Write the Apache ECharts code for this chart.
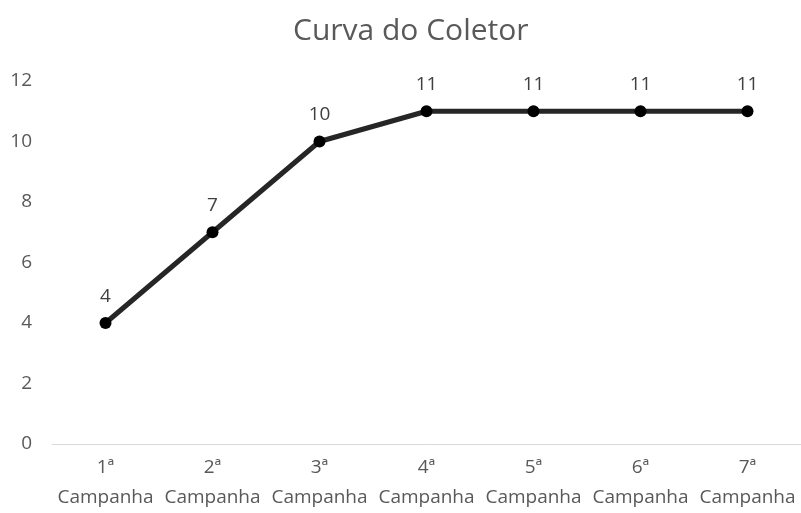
<!DOCTYPE html>
<html>
<head>
<meta charset="utf-8">
<script src="https://cdn.jsdelivr.net/npm/echarts@6/dist/echarts.min.js"></script>
<style>
  html, body { margin: 0; padding: 0; background: #fff; }
  #chart { width: 801px; height: 513px; }
</style>
</head>
<body>
<div id="chart"></div>
<script>
const categories = ['1ª\nCampanha', '2ª\nCampanha', '3ª\nCampanha', '4ª\nCampanha', '5ª\nCampanha', '6ª\nCampanha', '7ª\nCampanha']
const values = [4, 7, 10, 11, 11, 11, 11]
const yTicks = { min: 0, max: 12, interval: 2 }

const chart = echarts.init(document.getElementById('chart'))
const font = '"Open Sans", "Noto Sans", sans-serif'

chart.setOption({
  animation: false,
  title: {
    text: 'Curva do Coletor',
    left: 288,
    top: 11,
    textStyle: { fontFamily: font, fontSize: 30, fontWeight: 'normal', color: '#595959' }
  },
  grid: { left: 52, top: 81, width: 751, height: 366, containLabel: false },
  xAxis: {
    type: 'category',
    data: categories,
    axisLine: { lineStyle: { color: '#d9d9d9', width: 1 } },
    axisTick: { show: false },
    axisLabel: { fontFamily: font, fontSize: 19, color: '#595959', lineHeight: 30, margin: 9, interval: 0 }
  },
  yAxis: {
    type: 'value',
    min: yTicks.min,
    max: yTicks.max,
    interval: yTicks.interval,
    splitLine: { show: false },
    axisLine: { show: false },
    axisTick: { show: false },
    axisLabel: { fontFamily: font, fontSize: 19, color: '#595959', margin: 20 }
  },
  series: [
    {
      type: 'line',
      data: values,
      symbol: 'circle',
      symbolSize: 12,
      lineStyle: { color: '#262626', width: 5 },
      itemStyle: { color: '#000' },
      label: { show: true, position: 'top', distance: 11, fontFamily: font, fontSize: 19, color: '#404040' }
    }
  ]
})
</script>
</body>
</html>
